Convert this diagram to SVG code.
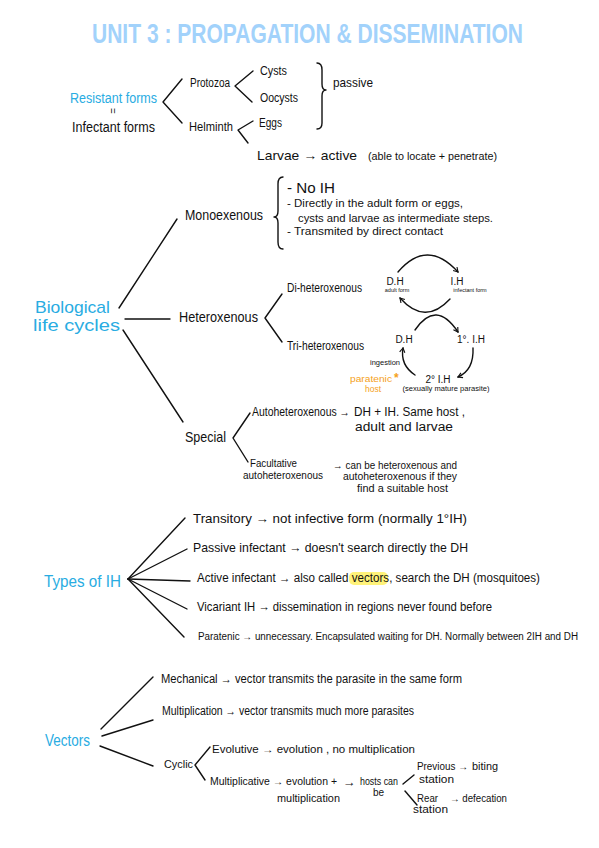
<svg xmlns="http://www.w3.org/2000/svg" width="599" height="848" viewBox="0 0 599 848">
<style>
text{font-family:"Liberation Sans","DejaVu Sans",sans-serif;fill:#111}
.blue{fill:#29ace2}
.org{fill:#f5a11c}
.title{fill:#a2d2fb;font-weight:bold;font-size:20px}
.c line,.c polyline,.c path{stroke:#111;stroke-width:1.4;fill:none;stroke-linecap:round;stroke-linejoin:round}
.s5{font-size:5.5px}.s6{font-size:6.5px}.s7{font-size:7.5px}.s9{font-size:9px}.s10{font-size:10px}.s11{font-size:11px}.s12{font-size:12px}.s13{font-size:13px}.s14{font-size:14px}.s15{font-size:15px}.s17{font-size:17px}
</style>
<defs>
<marker id="ah" viewBox="0 0 8 8" refX="6" refY="4" markerWidth="7" markerHeight="7" orient="auto" markerUnits="userSpaceOnUse">
<path d="M1,1 L6,4 L1,7" fill="none" stroke="#111" stroke-width="1.3"/>
</marker>
</defs>
<rect width="599" height="848" fill="#fff"/>

<g id="title"><text class="title" transform="translate(92,43) scale(1,1.4)" x="0" y="0" textLength="431" lengthAdjust="spacingAndGlyphs">UNIT 3 : PROPAGATION &amp; DISSEMINATION</text></g>

<g class="c" id="connectors">
<polyline points="182,79 163,102 182,123"/>
<polyline points="253,71 235,86 252,102"/>
<polyline points="253,121 238,130 248,143"/>
<path d="M317,63 Q322,63 322,70 L322,84 Q322,90 326,90 Q322,90 322,96 L322,123 Q322,129 317,129"/>
<path d="M283,177 Q278,177 278,184 L278,211 Q278,217 274,217 Q278,217 278,223 L278,242 Q278,249 283,249"/>
<line x1="119" y1="308" x2="177" y2="219"/>
<line x1="125" y1="319" x2="170" y2="319"/>
<line x1="123" y1="330" x2="183" y2="422"/>
<polyline points="282,294 265,318 282,342"/>
<path d="M398,272 Q427,238 458,272" marker-end="url(#ah)"/>
<path d="M450,299 Q425,326 400,298" marker-end="url(#ah)"/>
<path d="M415,330 Q436,299 458,332" marker-end="url(#ah)"/>
<path d="M473,348 Q474,370 458,377" marker-end="url(#ah)"/>
<path d="M415,375 Q400,365 403,348" marker-end="url(#ah)"/>
<polyline points="250,413 233,438 248,462"/>
<line x1="128" y1="579" x2="185" y2="518"/>
<line x1="128" y1="579" x2="187" y2="549"/>
<line x1="128" y1="579" x2="190" y2="581"/>
<line x1="128" y1="579" x2="187" y2="609"/>
<line x1="128" y1="579" x2="184" y2="637"/>
<line x1="101" y1="729" x2="153" y2="677"/>
<line x1="102" y1="736" x2="153" y2="720"/>
<line x1="100" y1="746" x2="153" y2="766"/>
<polyline points="210,747 195,765 205,780"/>
<line x1="403" y1="784" x2="414" y2="775"/>
<line x1="405" y1="791" x2="417" y2="805"/>
</g>

<g id="resistant-forms">
<text class="blue s14" x="70" y="103" textLength="87" lengthAdjust="spacingAndGlyphs">Resistant forms</text>
<text class="s10" x="112" y="114" text-anchor="middle" transform="rotate(90 112 111)">=</text>
<text class="s14" x="72" y="132" textLength="83" lengthAdjust="spacingAndGlyphs">Infectant forms</text>
</g>
<g id="protozoa"><text class="s12" x="190" y="87" textLength="40" lengthAdjust="spacingAndGlyphs">Protozoa</text></g>
<g id="cysts"><text class="s12" x="260" y="75" textLength="27" lengthAdjust="spacingAndGlyphs">Cysts</text></g>
<g id="oocysts"><text class="s12" x="260" y="102" textLength="38" lengthAdjust="spacingAndGlyphs">Oocysts</text></g>
<g id="helminth"><text class="s12" x="189" y="131" textLength="44" lengthAdjust="spacingAndGlyphs">Helminth</text></g>
<g id="eggs"><text class="s12" x="259" y="127" textLength="23" lengthAdjust="spacingAndGlyphs">Eggs</text></g>
<g id="passive"><text class="s13" x="333" y="87" textLength="40" lengthAdjust="spacingAndGlyphs">passive</text></g>
<g id="larvae">
<text class="s13" x="257" y="160" textLength="100" lengthAdjust="spacingAndGlyphs">Larvae → active</text>
<text class="s10" x="368" y="160" textLength="129" lengthAdjust="spacingAndGlyphs">(able to locate + penetrate)</text>
</g>

<g id="biological-life-cycles">
<text class="blue s17" x="35" y="313" textLength="75" lengthAdjust="spacingAndGlyphs">Biological</text>
<text class="blue s17" x="33" y="331" textLength="87" lengthAdjust="spacingAndGlyphs">life cycles</text>
</g>
<g id="monoexenous">
<text class="s15" x="185" y="220" textLength="78" lengthAdjust="spacingAndGlyphs">Monoexenous</text>
<text class="s14" x="287" y="193" textLength="48" lengthAdjust="spacingAndGlyphs">- No IH</text>
<text class="s10" x="287" y="207" textLength="176" lengthAdjust="spacingAndGlyphs">- Directly in the adult form or eggs,</text>
<text class="s10" x="298" y="222" textLength="195" lengthAdjust="spacingAndGlyphs">cysts and larvae as intermediate steps.</text>
<text class="s10" x="287" y="235" textLength="156" lengthAdjust="spacingAndGlyphs">- Transmited by direct contact</text>
</g>
<g id="heteroxenous"><text class="s15" x="179" y="322" textLength="79" lengthAdjust="spacingAndGlyphs">Heteroxenous</text></g>
<g id="di-heteroxenous">
<text class="s12" x="287" y="292" textLength="75" lengthAdjust="spacingAndGlyphs">Di-heteroxenous</text>
<text class="s10" x="395" y="285" text-anchor="middle">D.H</text>
<text class="s5" x="397" y="292" text-anchor="middle">adult form</text>
<text class="s10" x="457" y="285" text-anchor="middle">I.H</text>
<text class="s5" x="470" y="292" text-anchor="middle">infectant form</text>
</g>
<g id="tri-heteroxenous">
<text class="s12" x="287" y="350" textLength="77" lengthAdjust="spacingAndGlyphs">Tri-heteroxenous</text>
<text class="s10" x="404" y="343" text-anchor="middle">D.H</text>
<text class="s10" x="471" y="343" text-anchor="middle">1°. I.H</text>
<text class="s10" x="438" y="383" text-anchor="middle">2° I.H</text>
<text class="s6" x="446" y="391" text-anchor="middle" textLength="87" lengthAdjust="spacingAndGlyphs">(sexually mature parasite)</text>
<text class="s7" x="370" y="365" textLength="30" lengthAdjust="spacingAndGlyphs">ingestion</text>
<text class="org s9" x="350" y="382" textLength="42" lengthAdjust="spacingAndGlyphs">paratenic</text>
<text class="org s12" x="394" y="382" font-weight="bold">*</text>
<text class="org s9" x="365" y="392" textLength="16" lengthAdjust="spacingAndGlyphs">host</text>
</g>
<g id="special"><text class="s15" x="185" y="442" textLength="41" lengthAdjust="spacingAndGlyphs">Special</text></g>
<g id="autoheteroxenous">
<text class="s12" x="252" y="416" textLength="98" lengthAdjust="spacingAndGlyphs">Autoheteroxenous →</text>
<text class="s12" x="354" y="416" textLength="111" lengthAdjust="spacingAndGlyphs">DH + IH. Same host ,</text>
<text class="s12" x="355" y="431" textLength="98" lengthAdjust="spacingAndGlyphs">adult and larvae</text>
</g>
<g id="facultative">
<text class="s10" x="250" y="467" textLength="47" lengthAdjust="spacingAndGlyphs">Facultative</text>
<text class="s10" x="243" y="479" textLength="80" lengthAdjust="spacingAndGlyphs">autoheteroxenous</text>
<text class="s11" x="333" y="469" textLength="124" lengthAdjust="spacingAndGlyphs">→ can be heteroxenous and</text>
<text class="s11" x="343" y="480" textLength="114" lengthAdjust="spacingAndGlyphs">autoheteroxenous if they</text>
<text class="s11" x="357" y="492" textLength="91" lengthAdjust="spacingAndGlyphs">find a suitable host</text>
</g>

<g id="types-of-ih"><text class="blue s17" x="44" y="587" textLength="77" lengthAdjust="spacingAndGlyphs">Types of IH</text></g>
<g id="transitory"><text class="s13" x="193" y="523" textLength="274" lengthAdjust="spacingAndGlyphs">Transitory → not infective form  (normally 1°IH)</text></g>
<g id="passive-infectant"><text class="s13" x="193" y="552" textLength="275" lengthAdjust="spacingAndGlyphs">Passive infectant → doesn't search directly the DH</text></g>
<g id="active-infectant">
<rect x="349" y="572" width="39" height="13" rx="5" fill="#fff37a"/>
<text class="s12" x="197" y="582" textLength="343" lengthAdjust="spacingAndGlyphs">Active infectant → also called vectors, search the DH (mosquitoes)</text>
</g>
<g id="vicariant"><text class="s13" x="197" y="611" textLength="295" lengthAdjust="spacingAndGlyphs">Vicariant IH → dissemination in regions never found before</text></g>
<g id="paratenic"><text class="s10" x="198" y="640" textLength="380" lengthAdjust="spacingAndGlyphs">Paratenic → unnecessary. Encapsulated waiting for DH. Normally between 2IH and DH</text></g>

<g id="vectors"><text class="blue s17" x="45" y="746" textLength="45" lengthAdjust="spacingAndGlyphs">Vectors</text></g>
<g id="mechanical"><text class="s12" x="161" y="683" textLength="301" lengthAdjust="spacingAndGlyphs">Mechanical → vector transmits the parasite in the same form</text></g>
<g id="multiplication"><text class="s12" x="162" y="715" textLength="252" lengthAdjust="spacingAndGlyphs">Multiplication → vector transmits much more parasites</text></g>
<g id="cyclic"><text class="s11" x="164" y="768" textLength="29" lengthAdjust="spacingAndGlyphs">Cyclic</text></g>
<g id="evolutive"><text class="s10" x="212" y="753" textLength="203" lengthAdjust="spacingAndGlyphs">Evolutive → evolution , no multiplication</text></g>
<g id="multiplicative">
<text class="s10" x="210" y="785" textLength="127" lengthAdjust="spacingAndGlyphs">Multiplicative → evolution +</text>
<text class="s10" x="277" y="802" textLength="63" lengthAdjust="spacingAndGlyphs">multiplication</text>
<text class="s12" x="343" y="786" textLength="13" lengthAdjust="spacingAndGlyphs">→</text>
</g>
<g id="hosts-can-be">
<text class="s10" x="360" y="785" textLength="38" lengthAdjust="spacingAndGlyphs">hosts can</text>
<text class="s10" x="373" y="796">be</text>
</g>
<g id="previous-station">
<text class="s10" x="417" y="770" textLength="51" lengthAdjust="spacingAndGlyphs">Previous →</text>
<text class="s10" x="472" y="770" textLength="26" lengthAdjust="spacingAndGlyphs">biting</text>
<text class="s10" x="419" y="783" textLength="35" lengthAdjust="spacingAndGlyphs">station</text>
</g>
<g id="rear-station">
<text class="s10" x="417" y="802" textLength="21" lengthAdjust="spacingAndGlyphs">Rear</text>
<text class="s10" x="413" y="813" textLength="35" lengthAdjust="spacingAndGlyphs">station</text>
<text class="s10" x="450" y="802" textLength="57" lengthAdjust="spacingAndGlyphs">→ defecation</text>
</g>
</svg>
